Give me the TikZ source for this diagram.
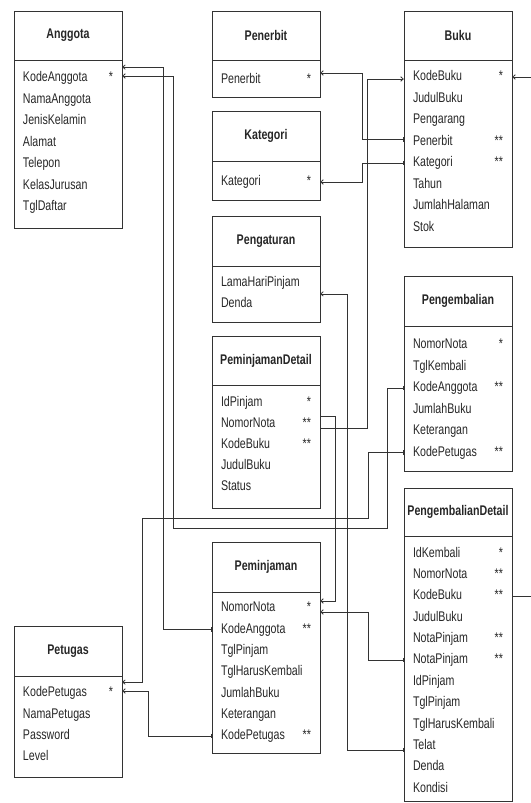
\documentclass[tikz,border=0pt]{standalone}
\usepackage{fontspec}
\setmainfont{Liberation Sans}[FakeStretch=0.76]
\usetikzlibrary{arrows.meta}

\tikzset{
  hdr/.style={draw=black!80,line width=0.8pt,minimum width=108pt,inner sep=0pt,font=\fontsize{14}{16}\selectfont\bfseries,text=black!85},
  ent/.style={draw=black!80,line width=0.8pt,minimum width=108pt,inner sep=0pt},
  row/.style={text width=90pt,inner xsep=9pt,inner ysep=0pt,minimum height=21.4pt,text height=10.5pt,text depth=3pt,align=left,font=\fontsize{14}{16}\selectfont,text=black!85},
  rel/.style={draw=black!80,line width=0.8pt,{Straight Barb[length=2.5pt,width=4.5pt]}-{Bar[width=4.5pt]}}
}

\begin{document}
\begin{tikzpicture}[x=1pt,y=-1pt]
\useasboundingbox (0,0) rectangle (530,803);
\node[hdr,minimum height=49] (angH) at (68,35.5) {Anggota};
\node[ent,minimum height=168] (ang) at (68,144) {};
\node[row] (ang1) at (68,78) {KodeAnggota\hfill*};
\node[row] (ang2) at (68,99.5) {NamaAnggota};
\node[row] (ang3) at (68,121) {JenisKelamin};
\node[row] (ang4) at (68,142.5) {Alamat};
\node[row] (ang5) at (68,164) {Telepon};
\node[row] (ang6) at (68,185.5) {KelasJurusan};
\node[row] (ang7) at (68,207) {TglDaftar};
\node[hdr,minimum height=49] (pnbH) at (266,35.5) {Penerbit};
\node[ent,minimum height=37] (pnb) at (266,78.5) {};
\node[row] (pnb1) at (266,80) {Penerbit\hfill*};
\node[hdr,minimum height=50] (katH) at (266,136) {Kategori};
\node[ent,minimum height=39] (kat) at (266,180.5) {};
\node[row] (kat1) at (266,182) {Kategori\hfill*};
\node[hdr,minimum height=50] (atrH) at (266,241) {Pengaturan};
\node[ent,minimum height=56] (atr) at (266,294) {};
\node[row] (atr1) at (266,283) {LamaHariPinjam};
\node[row] (atr2) at (266,304) {Denda};
\node[hdr,minimum height=49] (pjdH) at (266,360.5) {PeminjamanDetail};
\node[ent,minimum height=123] (pjd) at (266,446.5) {};
\node[row] (pjd1) at (266,403) {IdPinjam\hfill*};
\node[row] (pjd2) at (266,424) {NomorNota\hfill**};
\node[row] (pjd3) at (266,445) {KodeBuku\hfill**};
\node[row] (pjd4) at (266,466) {JudulBuku};
\node[row] (pjd5) at (266,487) {Status};
\node[hdr,minimum height=50] (pjmH) at (266,567) {Peminjaman};
\node[ent,minimum height=161] (pjm) at (266,672.5) {};
\node[row] (pjm1) at (266,608) {NomorNota\hfill*};
\node[row] (pjm2) at (266,629.5) {KodeAnggota\hfill**};
\node[row] (pjm3) at (266,651) {TglPinjam};
\node[row] (pjm4) at (266,672) {TglHarusKembali};
\node[row] (pjm5) at (266,693.5) {JumlahBuku};
\node[row] (pjm6) at (266,715) {Keterangan};
\node[row] (pjm7) at (266,736) {KodePetugas\hfill**};
\node[hdr,minimum height=50] (ptgH) at (68,651) {Petugas};
\node[ent,minimum height=101] (ptg) at (68,726.5) {};
\node[row] (ptg1) at (68,693) {KodePetugas\hfill*};
\node[row] (ptg2) at (68,714.5) {NamaPetugas};
\node[row] (ptg3) at (68,736) {Password};
\node[row] (ptg4) at (68,757) {Level};
\node[hdr,minimum height=49] (bukuH) at (458,35.5) {Buku};
\node[ent,minimum height=187] (buku) at (458,153.5) {};
\node[row] (buku1) at (458,77) {KodeBuku\hfill*};
\node[row] (buku2) at (458,98.5) {JudulBuku};
\node[row] (buku3) at (458,120) {Pengarang};
\node[row] (buku4) at (458,141.5) {Penerbit\hfill**};
\node[row] (buku5) at (458,163) {Kategori\hfill**};
\node[row] (buku6) at (458,184.5) {Tahun};
\node[row] (buku7) at (458,206) {JumlahHalaman};
\node[row] (buku8) at (458,227.5) {Stok};
\node[hdr,minimum height=50] (kblH) at (458,301) {Pengembalian};
\node[ent,minimum height=145] (kbl) at (458,398.5) {};
\node[row] (kbl1) at (458,345) {NomorNota\hfill*};
\node[row] (kbl2) at (458,366.5) {TglKembali};
\node[row] (kbl3) at (458,388) {KodeAnggota\hfill**};
\node[row] (kbl4) at (458,409.5) {JumlahBuku};
\node[row] (kbl5) at (458,431) {Keterangan};
\node[row] (kbl6) at (458,452.5) {KodePetugas\hfill**};
\node[hdr,minimum height=48] (kbdH) at (458,512) {PengembalianDetail};
\node[ent,minimum height=265] (kbd) at (458,668.5) {};
\node[row] (kbd1) at (458,553.5) {IdKembali\hfill*};
\node[row] (kbd2) at (458,575) {NomorNota\hfill**};
\node[row] (kbd3) at (458,596) {KodeBuku\hfill**};
\node[row] (kbd4) at (458,617.5) {JudulBuku};
\node[row] (kbd5) at (458,639) {NotaPinjam\hfill**};
\node[row] (kbd6) at (458,660) {NotaPinjam\hfill**};
\node[row] (kbd7) at (458,681.5) {IdPinjam};
\node[row] (kbd8) at (458,703) {TglPinjam};
\node[row] (kbd9) at (458,724.5) {TglHarusKembali};
\node[row] (kbd10) at (458,746) {Telat};
\node[row] (kbd11) at (458,767) {Denda};
\node[row] (kbd12) at (458,788.5) {Kondisi};
\draw[rel] (ang1.north east) -- ++(41,0) |- (pjm2.west);
\draw[rel] ([yshift=2]ang1.east) -- ++(51,0) |- (387,528) |- (kbl3.west);
\draw[rel] (ptg1.north east) -- ++(20,0) |- (368,518) |- (kbl6.west);
\draw[rel] ([yshift=2]ptg1.east) -- ++(26,0) |- (pjm7.west);
\draw[rel] ([yshift=7]pnb1.east) -- ++(42,0) |- ([yshift=2]buku4.west);
\draw[rel] (kat1.east) -- ++(42,0) |- (buku5.west);
\draw[rel] ([yshift=-2]buku1.west) -- ++(-36,0) |- ([yshift=-4]pjd2.east);
\draw[rel] ([yshift=7]pjm1.east) -- ++(15,0) |- ([yshift=8]pjd2.east);
\draw[rel] (atr1.south east) -- ++(27,0) |- ([yshift=-4]kbd10.west);
\draw[rel] ([yshift=-4]pjm1.east) -- ++(48,0) |- (kbd6.west);
\draw[rel] (buku1.east) -- ++(23,0) |- (kbd3.east);
\end{tikzpicture}
\end{document}
